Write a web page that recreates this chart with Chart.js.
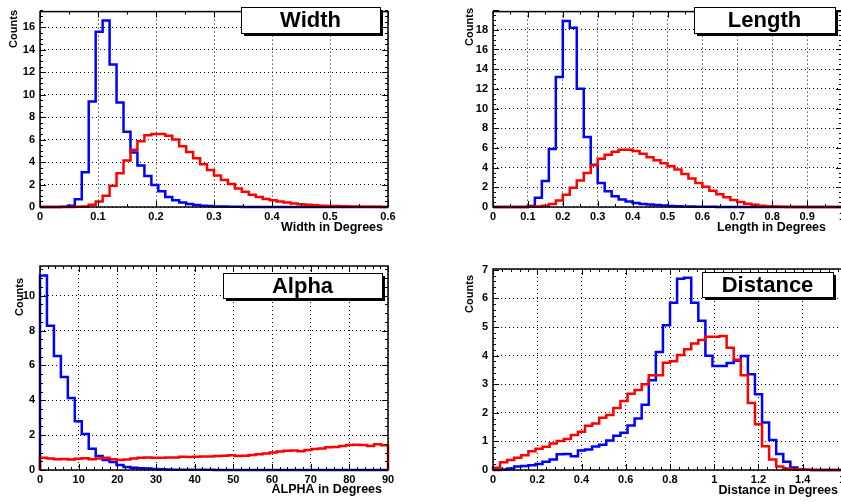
<!DOCTYPE html>
<html>
<head>
<meta charset="utf-8">
<script src="https://cdn.jsdelivr.net/npm/chart.js@4.4.1/dist/chart.umd.min.js"></script>
<style>
    html, body { margin: 0; padding: 0; background: #fff; overflow: hidden; }
    body { width: 841px; height: 502px; position: relative; }
    canvas { position: absolute; }
</style>
</head>
<body>
<canvas id="cWidth" width="420" height="251" style="left:0px;top:0px"></canvas>
<canvas id="cLength" width="440" height="251" style="left:420px;top:0px"></canvas>
<canvas id="cAlpha" width="420" height="251" style="left:0px;top:251px"></canvas>
<canvas id="cDist" width="440" height="251" style="left:420px;top:251px"></canvas>
<script>
/* histogram contents, 50 bins each (red = background, blue = gammas) */
const widthBlue = [0, 0, 0.01, 0.03, 0.12, 0.7, 3.1, 9.4, 15.6, 16.6,
    12.7, 9.3, 6.7, 4.85, 3.7, 2.75, 1.95, 1.4, 0.9, 0.6,
    0.4, 0.27, 0.18, 0.12, 0.08, 0.05, 0.04, 0.03, 0.02, 0.01,
    0, 0, 0, 0, 0, 0, 0, 0, 0, 0,
    0, 0, 0, 0, 0, 0, 0, 0, 0, 0];
const widthRed = [0, 0, 0, 0, 0, 0.02, 0.05, 0.2, 0.5, 1.0,
    1.9, 3.0, 4.15, 5.1, 5.85, 6.4, 6.5, 6.5, 6.35, 6.0,
    5.4, 4.9, 4.35, 3.8, 3.3, 2.8, 2.4, 2.05, 1.65, 1.35,
    1.1, 0.9, 0.72, 0.6, 0.48, 0.4, 0.32, 0.25, 0.2, 0.16,
    0.12, 0.1, 0.08, 0.06, 0.05, 0.04, 0.03, 0.02, 0.02, 0.01];

const lengthBlue = [0, 0, 0, 0, 0, 0.1, 0.95, 2.65, 5.9, 13.2,
    18.9, 18.2, 12.0, 7.1, 4.3, 2.45, 1.6, 1.1, 0.75, 0.55,
    0.4, 0.3, 0.25, 0.2, 0.15, 0.1, 0.08, 0.06, 0.04, 0.03,
    0.02, 0.02, 0.01, 0, 0, 0, 0, 0, 0, 0,
    0, 0, 0, 0, 0, 0, 0, 0, 0, 0];
const lengthRed = [0, 0, 0, 0, 0.01, 0.02, 0.05, 0.12, 0.3, 0.65,
    1.25, 1.95, 2.7, 3.45, 4.25, 4.9, 5.3, 5.6, 5.82, 5.82,
    5.7, 5.4, 5.05, 4.75, 4.45, 4.15, 3.8, 3.35, 2.9, 2.45,
    2.05, 1.65, 1.3, 1.0, 0.72, 0.5, 0.33, 0.22, 0.13, 0.07,
    0.04, 0.02, 0.01, 0, 0, 0, 0, 0, 0, 0];

const alphaBlue = [11.15, 8.27, 6.54, 5.33, 4.13, 2.79, 2.06, 1.22, 0.81, 0.58,
    0.46, 0.28, 0.17, 0.13, 0.1, 0.08, 0.06, 0.05, 0.03, 0.02,
    0.02, 0.01, 0.01, 0.01, 0.01, 0, 0, 0, 0, 0,
    0, 0, 0, 0, 0, 0, 0, 0, 0, 0,
    0, 0, 0, 0, 0, 0, 0, 0, 0, 0];
const alphaRed = [0.7, 0.66, 0.62, 0.63, 0.6, 0.64, 0.68, 0.62, 0.66, 0.7,
    0.62, 0.58, 0.6, 0.66, 0.7, 0.72, 0.7, 0.7, 0.71, 0.72,
    0.76, 0.74, 0.76, 0.78, 0.77, 0.8, 0.82, 0.85, 0.8, 0.82,
    0.86, 0.9, 0.94, 1.0, 1.06, 1.1, 1.12, 1.08, 1.14, 1.2,
    1.24, 1.3, 1.32, 1.38, 1.44, 1.45, 1.43, 1.38, 1.47, 1.42];

const distBlue = [0, 0.02, 0.05, 0.12, 0.14, 0.17, 0.21, 0.29, 0.37, 0.55,
    0.56, 0.48, 0.68, 0.72, 0.82, 0.88, 1.03, 1.2, 1.3, 1.56,
    1.8, 2.28, 3.14, 4.13, 5.06, 5.85, 6.69, 6.72, 5.85, 5.22,
    4.0, 3.64, 3.64, 3.74, 3.82, 3.99, 3.35, 2.65, 1.66, 1.05,
    0.56, 0.29, 0.09, 0.03, 0.01, 0, 0, 0, 0, 0];
const distRed = [0.08, 0.27, 0.35, 0.43, 0.52, 0.66, 0.74, 0.81, 0.93, 1.01,
    1.08, 1.22, 1.34, 1.55, 1.63, 1.83, 1.92, 2.17, 2.41, 2.67,
    2.8, 3.0, 3.31, 3.31, 3.75, 3.8, 4.02, 4.22, 4.42, 4.55,
    4.66, 4.66, 4.69, 4.28, 3.86, 3.31, 2.34, 1.6, 0.83, 0.37,
    0.12, 0.05, 0.03, 0.02, 0.01, 0, 0, 0, 0, 0];

/* tick labels */
const widthXTicks = [0, 0.1, 0.2, 0.3, 0.4, 0.5, 0.6];
const widthYTicks = [0, 2, 4, 6, 8, 10, 12, 14, 16];
const lengthXTicks = [0, 0.1, 0.2, 0.3, 0.4, 0.5, 0.6, 0.7, 0.8, 0.9, 1];
const lengthYTicks = [0, 2, 4, 6, 8, 10, 12, 14, 16, 18];
const alphaXTicks = [0, 10, 20, 30, 40, 50, 60, 70, 80, 90];
const alphaYTicks = [0, 2, 4, 6, 8, 10];
const distXTicks = [0, 0.2, 0.4, 0.6, 0.8, 1, 1.2, 1.4, 1.6];
const distYTicks = [0, 1, 2, 3, 4, 5, 6, 7];

const FONT = '"Liberation Sans", Arial, Helvetica, sans-serif';
Chart.defaults.font.family = FONT;
Chart.defaults.font.weight = 'bold';
Chart.defaults.font.size = 11;
Chart.defaults.color = '#000';

/* bin contents -> outline points (steps drawn by the line element) */
function histPoints(lo, hi, counts) {
    const w = (hi - lo) / counts.length;
    const pts = [{ x: lo, y: 0 }];
    counts.forEach((c, i) => pts.push({ x: lo + i * w, y: c }));
    pts.push({ x: hi, y: counts[counts.length - 1] });
    pts.push({ x: hi, y: 0 });
    return pts;
}

/* ROOT-like frame, inner ticks, title box and axis titles */
const rootFrame = {
    id: 'rootFrame',
    afterDatasetsDraw(chart, args, o) {
        const ctx = chart.ctx;
        const a = chart.chartArea;
        const xs = chart.scales.x;
        const ys = chart.scales.y;
        ctx.save();
        ctx.strokeStyle = '#000';
        ctx.lineWidth = 1;
        ctx.beginPath();
        let n = Math.round((xs.max - xs.min) / o.xMinor);
        for (let k = 0; k <= n; k++) {
            const v = xs.min + k * o.xMinor;
            const major = Math.abs(v / o.xMajor - Math.round(v / o.xMajor)) < 1e-6;
            const len = major ? 6 : 3;
            const px = Math.round(xs.getPixelForValue(v)) + 0.5;
            ctx.moveTo(px, a.bottom); ctx.lineTo(px, a.bottom - len);
            ctx.moveTo(px, a.top); ctx.lineTo(px, a.top + len);
        }
        n = Math.round((ys.max - ys.min) / o.yMinor);
        for (let k = 0; k <= n; k++) {
            const v = ys.min + k * o.yMinor;
            const major = Math.abs(v / o.yMajor - Math.round(v / o.yMajor)) < 1e-6;
            const len = major ? 6 : 3;
            const py = Math.round(ys.getPixelForValue(v)) + 0.5;
            ctx.moveTo(a.left, py); ctx.lineTo(a.left + len, py);
            ctx.moveTo(a.right, py); ctx.lineTo(a.right - len, py);
        }
        ctx.stroke();
        ctx.lineWidth = 1.5;
        ctx.strokeRect(a.left, a.top, a.right - a.left, a.bottom - a.top);

        // title box with shadow
        const b = o.box;
        ctx.fillStyle = '#000';
        ctx.fillRect(b[0] + 3, b[1] + 3, b[2] - b[0], b[3] - b[1]);
        ctx.fillStyle = '#fff';
        ctx.fillRect(b[0], b[1], b[2] - b[0], b[3] - b[1]);
        ctx.lineWidth = 1;
        ctx.strokeRect(b[0] + 0.5, b[1] + 0.5, b[2] - b[0], b[3] - b[1]);
        ctx.fillStyle = '#000';
        ctx.font = 'bold 22px ' + FONT;
        ctx.textAlign = 'center';
        ctx.textBaseline = 'middle';
        ctx.fillText(o.title, (b[0] + b[2]) / 2, (b[1] + b[3]) / 2 + 1);

        // axis titles
        ctx.font = 'bold 12.5px ' + FONT;
        ctx.textAlign = 'right';
        ctx.fillText(o.xTitle, o.xTitlePos[0], o.xTitlePos[1]);
        ctx.font = 'bold 11px ' + FONT;
        ctx.translate(o.yTitlePos[0], o.yTitlePos[1]);
        ctx.rotate(-Math.PI / 2);
        ctx.fillText('Counts', 0, 0);
        ctx.restore();
    }
};

function makeHist(id, lo, hi, red, blue, xTicks, yTicks, yMax, area, deco) {
    const canvas = document.getElementById(id);
    const xAxisH = 20;
    return new Chart(canvas, {
        type: 'line',
        data: {
            datasets: [
                { data: histPoints(lo, hi, red), borderColor: '#ff0000' },
                { data: histPoints(lo, hi, blue), borderColor: '#0000ff' }
            ]
        },
        options: {
            responsive: false,
            animation: false,
            parsing: false,
            events: [],
            layout: {
                autoPadding: false,
                padding: {
                    left: 0,
                    top: area[1],
                    right: canvas.width - area[2],
                    bottom: canvas.height - area[3] - xAxisH
                }
            },
            elements: {
                point: { radius: 0 },
                line: { stepped: true, borderWidth: 2.5, tension: 0, fill: false, borderJoinStyle: 'miter' }
            },
            datasets: { line: { clip: 4 } },
            plugins: {
                legend: { display: false },
                tooltip: { enabled: false },
                rootFrame: deco
            },
            scales: {
                x: {
                    type: 'linear',
                    min: lo,
                    max: hi,
                    afterFit: s => { s.height = xAxisH; },
                    afterBuildTicks: s => { s.ticks = xTicks.map(v => ({ value: v })); },
                    ticks: { padding: 3, maxRotation: 0, autoSkip: false, callback: v => String(v) },
                    grid: { color: '#000', lineWidth: 1, drawTicks: false },
                    border: { display: false, dash: [1, 3] }
                },
                y: {
                    type: 'linear',
                    min: 0,
                    max: yMax,
                    afterFit: s => { s.width = area[0]; },
                    afterBuildTicks: s => { s.ticks = yTicks.map(v => ({ value: v })); },
                    ticks: { padding: 5, autoSkip: false, callback: v => String(v) },
                    grid: { color: '#000', lineWidth: 1, drawTicks: false },
                    border: { display: false, dash: [1, 3] }
                }
            }
        },
        plugins: [rootFrame]
    });
}

makeHist('cWidth', 0, 0.6, widthRed, widthBlue, widthXTicks, widthYTicks, 17.4,
    [40, 3, 388, 207],
    { title: 'Width', box: [241, 7, 380, 33], xTitle: 'Width in Degrees', xTitlePos: [383, 228],
      yTitlePos: [14, 10], xMajor: 0.1, xMinor: 0.05, yMajor: 2, yMinor: 0.5 });

makeHist('cLength', 0, 1, lengthRed, lengthBlue, lengthXTicks, lengthYTicks, 19.85,
    [73, 3, 422, 207],
    { title: 'Length', box: [274, 7, 415, 33], xTitle: 'Length in Degrees', xTitlePos: [406, 228],
      yTitlePos: [50, 8], xMajor: 0.1, xMinor: 0.05, yMajor: 2, yMinor: 0.5 });

makeHist('cAlpha', 0, 90, alphaRed, alphaBlue, alphaXTicks, alphaYTicks, 11.7,
    [40, 15, 388, 219],
    { title: 'Alpha', box: [223, 22, 382, 47], xTitle: 'ALPHA in Degrees', xTitlePos: [382, 239],
      yTitlePos: [20, 27], xMajor: 10, xMinor: 2, yMajor: 2, yMinor: 0.5 });

makeHist('cDist', 0, 1.6, distRed, distBlue, distXTicks, distYTicks, 7.03,
    [73, 18, 427, 219],
    { title: 'Distance', box: [282, 21, 413, 46], xTitle: 'Distance in Degrees', xTitlePos: [418, 240],
      yTitlePos: [50, 24], xMajor: 0.2, xMinor: 0.04, yMajor: 1, yMinor: 0.2 });
</script>
</body>
</html>
